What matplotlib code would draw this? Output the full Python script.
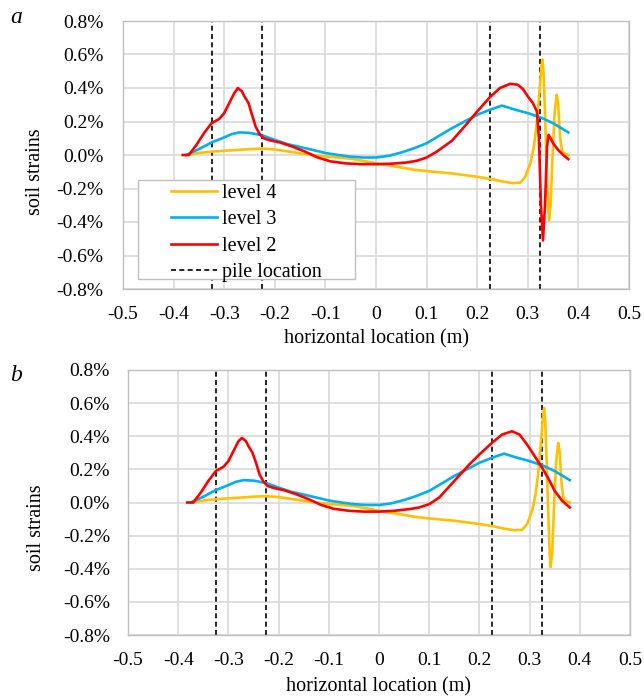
import matplotlib
matplotlib.use("Agg")
import matplotlib.pyplot as plt
from matplotlib.ticker import FuncFormatter
from matplotlib.patches import Rectangle

plt.rcParams['font.family'] = ['Liberation Serif', 'DejaVu Serif']
plt.rcParams['axes.unicode_minus'] = False

# ---------------- data (strain in %) ----------------
x_l4 = [-0.375, -0.35, -0.325, -0.30, -0.275, -0.25, -0.225, -0.20, -0.175, -0.15,
        -0.125, -0.10, -0.075, -0.05, -0.025, 0.0, 0.025, 0.05, 0.075, 0.10,
        0.125, 0.15, 0.175, 0.20, 0.225, 0.25, 0.27, 0.285, 0.295, 0.305,
        0.312, 0.318, 0.323, 0.327, 0.329, 0.331, 0.334, 0.337, 0.340, 0.342,
        0.345, 0.349, 0.353, 0.357, 0.360, 0.364, 0.368, 0.375, 0.38]
y_l4 = [0.0, 0.012, 0.02, 0.025, 0.03, 0.035, 0.038, 0.033, 0.022, 0.01,
        0.0, -0.008, -0.015, -0.022, -0.035, -0.05, -0.062, -0.075, -0.088, -0.096,
        -0.103, -0.11, -0.12, -0.13, -0.142, -0.158, -0.168, -0.165, -0.13, -0.05,
        0.05, 0.2, 0.38, 0.53, 0.57, 0.5, 0.25, -0.05, -0.3, -0.39,
        -0.3, 0.0, 0.25, 0.36, 0.3, 0.1, 0.02, 0.005, 0.0]

x_l3 = [-0.375, -0.35, -0.325, -0.30, -0.285, -0.27, -0.25, -0.225, -0.20, -0.175,
        -0.15, -0.125, -0.10, -0.075, -0.05, -0.025, 0.0, 0.025, 0.05, 0.075,
        0.10, 0.125, 0.15, 0.175, 0.20, 0.225, 0.249, 0.27, 0.30, 0.325,
        0.35, 0.38]
y_l3 = [0.0, 0.035, 0.075, 0.105, 0.125, 0.135, 0.132, 0.118, 0.09, 0.065,
        0.048, 0.03, 0.012, 0.0, -0.01, -0.015, -0.015, -0.005, 0.015, 0.04,
        0.07, 0.115, 0.16, 0.2, 0.24, 0.27, 0.295, 0.275, 0.25, 0.225,
        0.19, 0.135]

# level 2, panel a
x_l2a = [-0.382, -0.37, -0.355, -0.34, -0.325, -0.31, -0.30, -0.29, -0.28, -0.273,
         -0.265, -0.26, -0.252, -0.245, -0.238, -0.23, -0.222, -0.21, -0.19, -0.165,
         -0.14, -0.115, -0.09, -0.06, -0.03, 0.0, 0.03, 0.06, 0.08, 0.10,
         0.12, 0.15, 0.175, 0.20, 0.225, 0.245, 0.265, 0.28, 0.29, 0.30,
         0.31, 0.318, 0.322, 0.326, 0.330, 0.334, 0.338, 0.341, 0.345, 0.35,
         0.36, 0.37, 0.38]
y_l2a = [0.0, 0.0, 0.06, 0.13, 0.19, 0.215, 0.25, 0.31, 0.37, 0.40,
         0.38, 0.35, 0.31, 0.24, 0.17, 0.125, 0.10, 0.088, 0.075, 0.05,
         0.02, -0.015, -0.038, -0.05, -0.055, -0.055, -0.052, -0.045, -0.035, -0.015,
         0.02, 0.085, 0.17, 0.26, 0.345, 0.40, 0.425, 0.42, 0.395, 0.35,
         0.31, 0.26, 0.10, -0.30, -0.51, -0.30, 0.05, 0.12, 0.10, 0.07,
         0.03, 0.0, -0.025]

# level 2, panel b
x_l2b = [-0.382, -0.37, -0.355, -0.34, -0.325, -0.31, -0.30, -0.29, -0.28, -0.273,
         -0.265, -0.26, -0.252, -0.245, -0.238, -0.23, -0.222, -0.21, -0.19, -0.165,
         -0.14, -0.115, -0.09, -0.06, -0.03, 0.0, 0.03, 0.06, 0.08, 0.10,
         0.12, 0.135, 0.15, 0.18, 0.20, 0.225, 0.245, 0.265, 0.28, 0.295,
         0.31, 0.325, 0.34, 0.35, 0.365, 0.38]
y_l2b = [0.0, 0.0, 0.06, 0.13, 0.19, 0.215, 0.25, 0.31, 0.37, 0.39,
         0.37, 0.34, 0.30, 0.24, 0.17, 0.125, 0.10, 0.088, 0.075, 0.05,
         0.02, -0.015, -0.038, -0.05, -0.055, -0.055, -0.05, -0.04, -0.03, -0.01,
         0.03, 0.08, 0.13, 0.23, 0.29, 0.36, 0.41, 0.43, 0.41, 0.35,
         0.28, 0.21, 0.13, 0.07, 0.01, -0.03]

pile_x = [-0.325, -0.225, 0.225, 0.325]

series_labels = ['level 4', 'level 3', 'level 2', 'pile location']
colors = ['#FFC000', '#00B0F0', '#FF0000']

x_ticks = [-0.5, -0.4, -0.3, -0.2, -0.1, 0.0, 0.1, 0.2, 0.3, 0.4, 0.5]
y_ticks = [-0.8, -0.6, -0.4, -0.2, 0.0, 0.2, 0.4, 0.6, 0.8]

# ---------------- figure ----------------
W, H = 644, 699
fig = plt.figure(figsize=(W / 100, H / 100), dpi=100)

def px_axes(l, t, r, b):
    return fig.add_axes([l / W, 1 - b / H, (r - l) / W, (b - t) / H])

ax_a = px_axes(123, 21, 629, 289)
ax_b = px_axes(128, 370, 630, 635)

def xfmt(v, p):
    if abs(v) < 1e-9:
        return '0'
    return f'{v:.1f}'

def yfmt(v, p):
    if abs(v) < 1e-9:
        v = 0.0
    return f'{v:.1f}%'

grid_c = '#D9D9D9'
spine_c = '#BFBFBF'

def style(ax, ypad):
    ax.set_xlim(-0.5, 0.5)
    ax.set_ylim(-0.8, 0.8)
    ax.set_xticks(x_ticks)
    ax.set_yticks(y_ticks)
    ax.xaxis.set_major_formatter(FuncFormatter(xfmt))
    ax.yaxis.set_major_formatter(FuncFormatter(yfmt))
    ax.grid(True, color=grid_c, linewidth=1.2, zorder=0)
    ax.set_axisbelow(True)
    for s in ax.spines.values():
        s.set_color(spine_c)
        s.set_linewidth(1.0)
    ax.tick_params(axis='both', length=0, labelsize=14, colors='#000000')
    ax.tick_params(axis='y', pad=ypad)
    ax.tick_params(axis='x', pad=12)
    ax.set_xlabel('horizontal location (m)', fontsize=14.5)
    ax.set_ylabel('soil strains', fontsize=14.5)

def draw(ax, y2x, y2y):
    l4, = ax.plot(x_l4, y_l4, color=colors[0], lw=1.9, zorder=3)
    l3, = ax.plot(x_l3, y_l3, color=colors[1], lw=1.9, zorder=3)
    l2, = ax.plot(y2x, y2y, color=colors[2], lw=1.9, zorder=4)
    pl = None
    for xp in pile_x:
        pl = ax.axvline(xp, color='black', lw=1.2, dashes=(3, 2), zorder=2)
    return [l4, l3, l2, pl]

handles = draw(ax_a, x_l2a, y_l2a)
draw(ax_b, x_l2b, y_l2b)

style(ax_a, 14)
style(ax_b, 13)

ax_a.xaxis.set_label_coords(0.5, -0.15)
ax_a.yaxis.set_label_coords(-0.154, 0.437)
ax_b.xaxis.set_label_coords(0.5, -0.158)
ax_b.yaxis.set_label_coords(-0.163, 0.404)

# legend in panel a (frame drawn as a rectangle in axes coordinates)
lx0, ly0, lx1, ly1 = 138, 180, 355, 279
fx = lambda p: (p - 123) / (629 - 123)
fy = lambda p: (289 - p) / (289 - 21)
ax_a.add_patch(Rectangle((fx(lx0), fy(ly1)), fx(lx1) - fx(lx0), fy(ly0) - fy(ly1),
                         transform=ax_a.transAxes, facecolor='white',
                         edgecolor=spine_c, linewidth=1.0, zorder=6))
leg = ax_a.legend(handles, series_labels, loc='upper left',
                  bbox_to_anchor=(fx(168), fy(ly0 + 1)), borderaxespad=0,
                  frameon=False, fontsize=14.5, handlelength=2.3,
                  handletextpad=0.25, labelspacing=0.36, borderpad=0.15)
leg.set_zorder(7)

fig.text(10 / W, 1 - 23 / H, 'a', fontsize=17, style='italic')
fig.text(10 / W, 1 - 381 / H, 'b', fontsize=17, style='italic')

fig.savefig('out.png', dpi=100)
